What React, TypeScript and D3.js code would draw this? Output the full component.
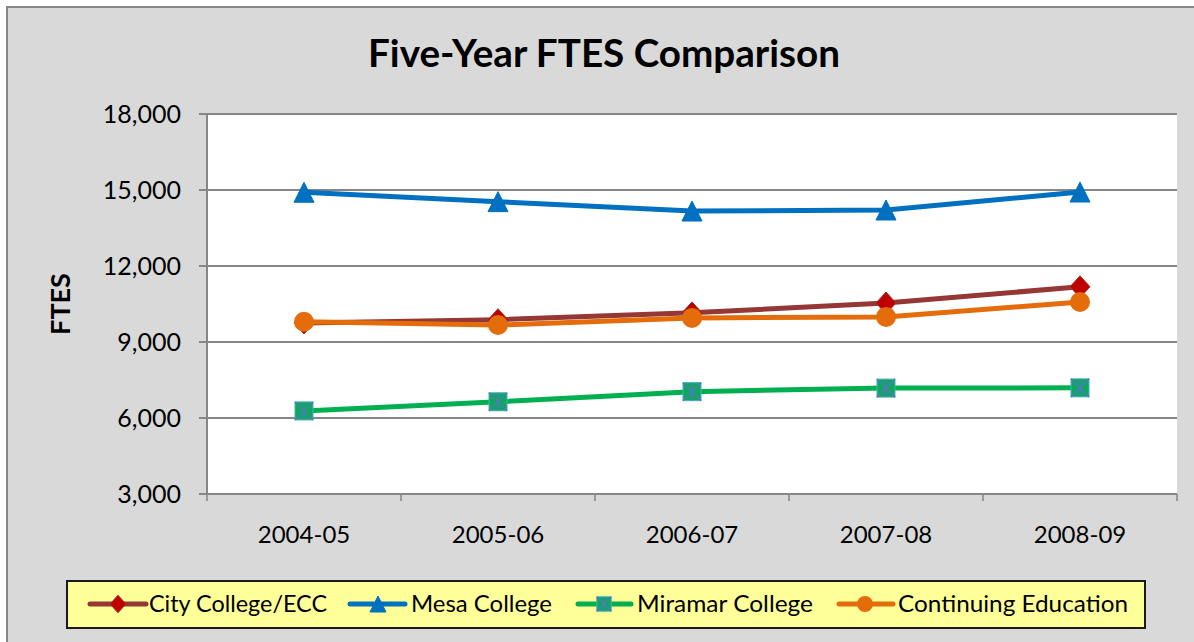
import React from "react";
import * as d3 from "d3";

const categories = ["2004-05", "2005-06", "2006-07", "2007-08", "2008-09"];
const cityCollege = [9750, 9880, 10150, 10540, 11180];
const mesaCollege = [14910, 14540, 14170, 14210, 14920];
const miramarCollege = [6280, 6640, 7040, 7180, 7190];
const continuingEd = [9800, 9670, 9950, 9990, 10580];
const yTicks = [3000, 6000, 9000, 12000, 15000, 18000];
const seriesNames = ["City College/ECC", "Mesa College", "Miramar College", "Continuing Education"];

const W = 1194;
const H = 642;
const plot = { left: 207, right: 1177, top: 114, bottom: 494 };
const FONT = "Lato, 'Open Sans', sans-serif";
const GRID = "#868686";

type Series = { name: string; values: number[]; color: string; marker: string };

const series: Series[] = [
  { name: seriesNames[0], values: cityCollege, color: "#953735", marker: "diamond" },
  { name: seriesNames[1], values: mesaCollege, color: "#0070C0", marker: "triangle" },
  { name: seriesNames[2], values: miramarCollege, color: "#00B050", marker: "square" },
  { name: seriesNames[3], values: continuingEd, color: "#E46C0A", marker: "circle" },
];

function Marker({ type, x, y, s }: { type: string; x: number; y: number; s: number }) {
  const h = s / 2;
  if (type === "diamond") {
    return (
      <path
        d={`M${x},${y - h * 1.1}L${x + h},${y}L${x},${y + h * 1.1}L${x - h},${y}Z`}
        fill="#C00000"
        stroke="#953735"
        strokeWidth={1}
      />
    );
  }
  if (type === "triangle") {
    return (
      <path
        d={`M${x},${y - h}L${x + h},${y + h}L${x - h},${y + h}Z`}
        fill="#0070C0"
        stroke="#0070C0"
        strokeWidth={1}
      />
    );
  }
  if (type === "square") {
    const q = h * 0.9;
    return (
      <g>
        <rect x={x - q} y={y - q} width={2 * q} height={2 * q} fill="#0DA85A" stroke="#4BACC6" strokeWidth={1} />
        <path
          d={`M${x - q},${y - q}L${x + q},${y + q}M${x + q},${y - q}L${x - q},${y + q}M${x},${y - q}L${x},${y + q}`}
          stroke="#4A7EBB"
          strokeWidth={1.5}
        />
      </g>
    );
  }
  return <circle cx={x} cy={y} r={h} fill="#E46C0A" />;
}

export default function App() {
  const x = d3.scaleBand<string>().domain(categories).range([plot.left, plot.right]).padding(0);
  const y = d3.scaleLinear().domain([3000, 18000]).range([plot.bottom, plot.top]);
  const cx = (c: string) => (x(c) as number) + x.bandwidth() / 2;
  const line = d3
    .line<number>()
    .x((_, i) => cx(categories[i]))
    .y((v) => y(v));
  const fmt = d3.format(",");

  const boundaries = categories.map((c) => x(c) as number).concat([plot.right]);

  const legendItems = [
    { lineX0: 90, lineX1: 146, mx: 118, tx: 149, tw: 178 },
    { lineX0: 350, lineX1: 405, mx: 378, tx: 411, tw: 141 },
    { lineX0: 578, lineX1: 631, mx: 604, tx: 637, tw: 176 },
    { lineX0: 839, lineX1: 893, mx: 865, tx: 898, tw: 230 },
  ];

  return (
    <svg
      width={W}
      height={H}
      style={{ position: "absolute", left: 0, top: 0, display: "block" }}
      fontFamily={FONT}
    >
      <rect x={0} y={0} width={W} height={H} fill="#ffffff" />
      <rect x={7} y={7} width={W + 20} height={H + 20} fill="#D9D9D9" stroke={GRID} strokeWidth={2} />

      {/* Title */}
      <text
        x={604}
        y={67}
        textAnchor="middle"
        fontSize={38}
        fontWeight="bold"
        fill="#000"
        textLength={472}
        lengthAdjust="spacingAndGlyphs"
      >
        Five-Year FTES Comparison
      </text>

      {/* Plot area */}
      <rect x={plot.left} y={plot.top} width={plot.right - plot.left} height={plot.bottom - plot.top} fill="#fff" />

      {/* Gridlines and y ticks */}
      {yTicks.map((t) => (
        <g key={t}>
          <line x1={plot.left - 8} x2={plot.right} y1={y(t)} y2={y(t)} stroke={GRID} strokeWidth={2} />
          <text x={181} y={y(t) + 8.5} textAnchor="end" fontSize={25} fill="#000">
            {fmt(t)}
          </text>
        </g>
      ))}

      {/* Y axis line */}
      <line x1={plot.left} x2={plot.left} y1={plot.top} y2={plot.bottom} stroke={GRID} strokeWidth={2} />

      {/* X ticks */}
      {boundaries.map((b, i) => (
        <line key={i} x1={b} x2={b} y1={plot.bottom} y2={plot.bottom + 7} stroke={GRID} strokeWidth={1.5} />
      ))}
      {categories.map((c) => (
        <text key={c} x={cx(c)} y={543} textAnchor="middle" fontSize={24} fill="#000">
          {c}
        </text>
      ))}

      {/* Y axis title */}
      <text
        transform={`translate(70,304) rotate(-90)`}
        textAnchor="middle"
        fontSize={27}
        fontWeight="bold"
        fill="#000"
      >
        FTES
      </text>

      {/* Series */}
      {series.map((s) => (
        <g key={s.name}>
          <path d={line(s.values) || ""} fill="none" stroke={s.color} strokeWidth={5} strokeLinejoin="round" />
          {s.values.map((v, i) => (
            <Marker key={i} type={s.marker} x={cx(categories[i])} y={y(v)} s={20} />
          ))}
        </g>
      ))}

      {/* Legend */}
      <rect x={67} y={581} width={1078} height={47} fill="#FFFF99" stroke="#1a1a1a" strokeWidth={2} />
      {series.map((s, i) => {
        const L = legendItems[i];
        return (
          <g key={s.name}>
            <line x1={L.lineX0} x2={L.lineX1} y1={604} y2={604} stroke={s.color} strokeWidth={5} strokeLinecap="round" />
            <Marker type={s.marker} x={L.mx} y={604} s={16} />
            <text
              x={L.tx}
              y={612}
              fontSize={23}
              fill="#000"
              textLength={L.tw}
              lengthAdjust="spacingAndGlyphs"
            >
              {s.name}
            </text>
          </g>
        );
      })}
    </svg>
  );
}
